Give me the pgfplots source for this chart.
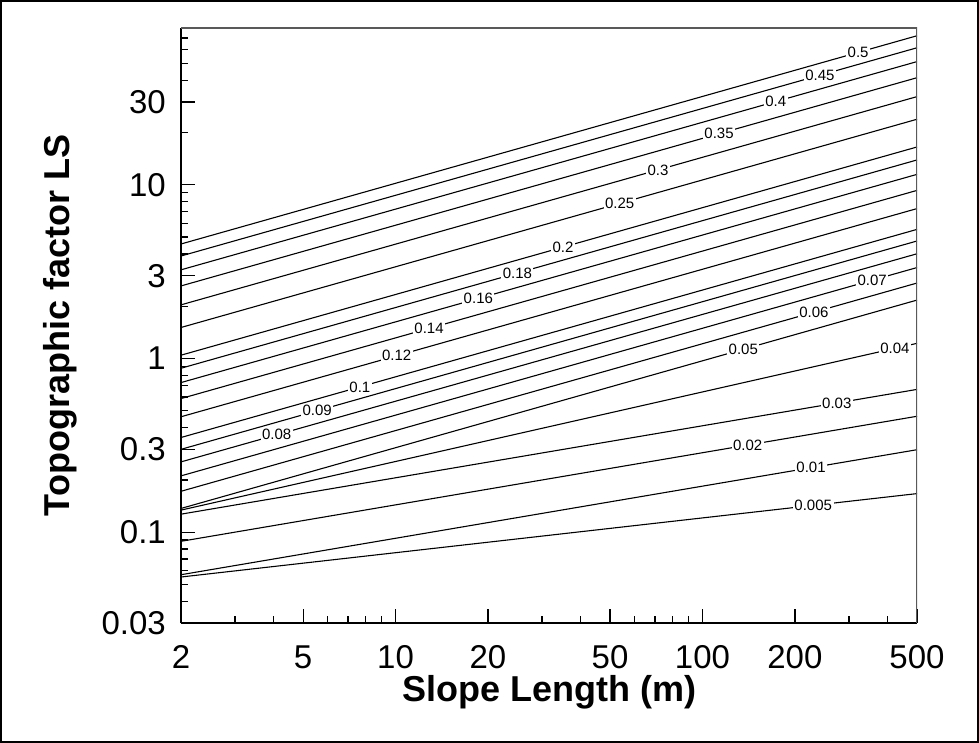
\documentclass[border=0pt]{standalone}
\usepackage{fontspec}
\setmainfont{Liberation Sans}
\usepackage{pgfplots}
\pgfplotsset{compat=1.18}

\begin{document}
\begin{tikzpicture}[
  cl/.style={fill=white, inner xsep=1.5bp, inner ysep=0.5bp, text=black,
    font=\fontsize{15bp}{18bp}\selectfont},
]
\useasboundingbox (0,0) rectangle (979bp,743bp);
\draw[line width=2bp] (1bp,1bp) rectangle (978bp,742bp);
\begin{axis}[
  lin/.style={black, line width=1.1bp, forget plot},
  lab/.style={draw=none, forget plot},
  at={(181bp,120bp)}, anchor=south west,
  scale only axis, width=736bp, height=595bp,
  xmode=log, ymode=log,
  xmin=2, xmax=500, ymin=0.03, ymax=80,
  axis x line*=bottom, axis y line*=left,
  axis line style={line width=2bp, black},
  xtick={2,5,10,20,50,100,200,500},
  xticklabels={2,5,10,20,50,100,200,500},
  minor xtick={3,4,6,7,8,9,30,40,60,70,80,90,300,400},
  ytick={0.03,0.1,0.3,1,3,10,30},
  yticklabels={0.03,0.1,0.3,1,3,10,30},
  minor ytick={0.04,0.05,0.06,0.07,0.08,0.09,0.2,0.4,0.5,0.6,0.7,0.8,0.9,2,4,5,6,7,8,9,20,40,50,60,70},
  tick align=inside,
  major tick length=14bp, minor tick length=7bp,
  every tick/.style={black, line width=1.3bp},
  tick label style={font=\fontsize{33bp}{40bp}\selectfont, inner sep=0pt},
  xticklabel style={anchor=base, yshift=-45bp},
  yticklabel style={anchor=east, xshift=-15bp},
  xlabel={Slope Length (m)},
  ylabel={Topographic factor LS},
  label style={font=\bfseries\fontsize{36bp}{43bp}\selectfont},
  xlabel style={at={(axis description cs:0.5,-0.116)}, anchor=center},
  ylabel style={at={(axis description cs:-0.164,0.5)}, anchor=center},
]
% contour lines, slope 0.5 down to 0.005
\addplot[lin] coordinates {(2,4.565) (500,72.18)};
\addplot[lin] coordinates {(2,3.893) (500,61.56)};
\addplot[lin] coordinates {(2,3.241) (500,51.24)};
\addplot[lin] coordinates {(2,2.618) (500,41.39)};
\addplot[lin] coordinates {(2,2.037) (500,32.21)};
\addplot[lin] coordinates {(2,1.509) (500,23.86)};
\addplot[lin] coordinates {(2,1.045) (500,16.52)};
\addplot[lin] coordinates {(2,0.879) (500,13.91)};
\addplot[lin] coordinates {(2,0.727) (500,11.49)};
\addplot[lin] coordinates {(2,0.588) (500,9.29)};
\addplot[lin] coordinates {(2,0.462) (500,7.30)};
\addplot[lin] coordinates {(2,0.351) (500,5.54)};
\addplot[lin] coordinates {(2,0.300) (500,4.75)};
\addplot[lin] coordinates {(2,0.254) (500,4.01)};
\addplot[lin] coordinates {(2,0.211) (500,3.34)};
\addplot[lin] coordinates {(2,0.172) (500,2.72)};
\addplot[lin] coordinates {(2,0.137) (500,2.17)};
\addplot[lin] coordinates {(2,0.134) (500,1.223)};
\addplot[lin] coordinates {(2,0.127) (500,0.664)};
\addplot[lin] coordinates {(2,0.0886) (500,0.465)};
\addplot[lin] coordinates {(2,0.0569) (500,0.2985)};
\addplot[lin] coordinates {(2,0.0552) (500,0.1668)};
% labels, drawn last so they cut the lines
\addplot[lab] coordinates {(2,4.565) (500,72.18)} node[cl,pos=0.92] {0.5};
\addplot[lab] coordinates {(2,3.893) (500,61.56)} node[cl,pos=0.868] {0.45};
\addplot[lab] coordinates {(2,3.241) (500,51.24)} node[cl,pos=0.808] {0.4};
\addplot[lab] coordinates {(2,2.618) (500,41.39)} node[cl,pos=0.731] {0.35};
\addplot[lab] coordinates {(2,2.037) (500,32.21)} node[cl,pos=0.648] {0.3};
\addplot[lab] coordinates {(2,1.509) (500,23.86)} node[cl,pos=0.596] {0.25};
\addplot[lab] coordinates {(2,1.045) (500,16.52)} node[cl,pos=0.519] {0.2};
\addplot[lab] coordinates {(2,0.879) (500,13.91)} node[cl,pos=0.457] {0.18};
\addplot[lab] coordinates {(2,0.727) (500,11.49)} node[cl,pos=0.404] {0.16};
\addplot[lab] coordinates {(2,0.588) (500,9.29)} node[cl,pos=0.337] {0.14};
\addplot[lab] coordinates {(2,0.462) (500,7.30)} node[cl,pos=0.293] {0.12};
\addplot[lab] coordinates {(2,0.351) (500,5.54)} node[cl,pos=0.243] {0.1};
\addplot[lab] coordinates {(2,0.300) (500,4.75)} node[cl,pos=0.185] {0.09};
\addplot[lab] coordinates {(2,0.254) (500,4.01)} node[cl,pos=0.130] {0.08};
\addplot[lab] coordinates {(2,0.211) (500,3.34)} node[cl,pos=0.939] {0.07};
\addplot[lab] coordinates {(2,0.172) (500,2.72)} node[cl,pos=0.860] {0.06};
\addplot[lab] coordinates {(2,0.137) (500,2.17)} node[cl,pos=0.764] {0.05};
\addplot[lab] coordinates {(2,0.134) (500,1.223)} node[cl,pos=0.970] {0.04};
\addplot[lab] coordinates {(2,0.127) (500,0.664)} node[cl,pos=0.891] {0.03};
\addplot[lab] coordinates {(2,0.0886) (500,0.465)} node[cl,pos=0.770] {0.02};
\addplot[lab] coordinates {(2,0.0569) (500,0.2985)} node[cl,pos=0.856] {0.01};
\addplot[lab] coordinates {(2,0.0552) (500,0.1668)} node[cl,pos=0.859] {0.005};
\draw[black!65, line width=1.3bp] (rel axis cs:0,1) -- (rel axis cs:1,1) -- (rel axis cs:1,0);
\end{axis}
\end{tikzpicture}
\end{document}
